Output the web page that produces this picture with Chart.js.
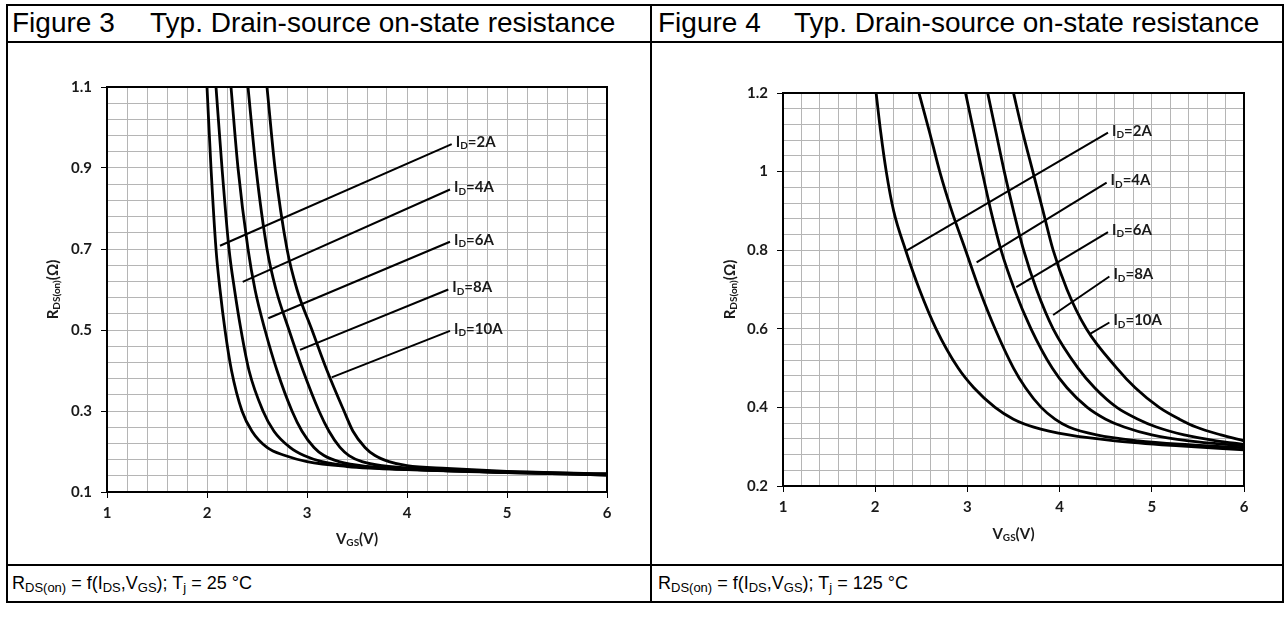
<!DOCTYPE html>
<html>
<head>
<meta charset="utf-8">
<script src="https://cdn.jsdelivr.net/npm/chart.js@4.4.1/dist/chart.umd.min.js"></script>
<style>
  html, body { margin: 0; padding: 0; background: #fff; }
  body { width: 1288px; height: 630px; position: relative; overflow: hidden; font-family: Arial, "Liberation Sans", sans-serif; }
  .ln { position: absolute; background: #000; }
  .ttl { position: absolute; top: 7px; font-size: 28px; line-height: 32px; white-space: nowrap; color: #000; }
  .foot { position: absolute; top: 571px; font-size: 18px; line-height: 24px; white-space: nowrap; color: #000; }
  .foot sub { font-size: 13px; vertical-align: baseline; position: relative; top: 3px; }
  .box { position: absolute; top: 45px; height: 519px; }
</style>
</head>
<body>
<div class="ln" style="left:6px;top:4px;width:1278px;height:2px"></div>
<div class="ln" style="left:6px;top:41px;width:1278px;height:2px"></div>
<div class="ln" style="left:6px;top:564px;width:1278px;height:2px"></div>
<div class="ln" style="left:6px;top:601px;width:1278px;height:2px"></div>
<div class="ln" style="left:6px;top:4px;width:2px;height:599px"></div>
<div class="ln" style="left:650px;top:4px;width:2px;height:599px"></div>
<div class="ln" style="left:1282px;top:4px;width:2px;height:599px"></div>

<div class="ttl" style="left:12px">Figure 3</div>
<div class="ttl" style="left:150px">Typ. Drain-source on-state resistance</div>
<div class="ttl" style="left:658px">Figure 4</div>
<div class="ttl" style="left:794px">Typ. Drain-source on-state resistance</div>

<div class="foot" style="left:12px">R<sub>DS(on)</sub> = f(I<sub>DS</sub>,V<sub>GS</sub>); T<sub>j</sub> = 25 °C</div>
<div class="foot" style="left:658px">R<sub>DS(on)</sub> = f(I<sub>DS</sub>,V<sub>GS</sub>); T<sub>j</sub> = 125 °C</div>

<div class="box" style="left:0;width:651px"><canvas id="chart25"></canvas></div>
<div class="box" style="left:651px;width:637px"><canvas id="chart125"></canvas></div>

<script>
const currents = ['2A', '4A', '6A', '8A', '10A'];

// Tj = 25 °C  (VGS in V, RDS(on) in ohm)
const vgs25_2A  = [2.00, 2.04, 2.09, 2.13, 2.18, 2.245, 2.35, 2.45, 2.60, 2.78, 3.00, 3.40, 4.00, 5.00, 6.00];
const rds25_2A  = [1.10, 0.90, 0.70, 0.60, 0.50, 0.40, 0.30, 0.25, 0.21, 0.19, 0.175, 0.163, 0.155, 0.148, 0.142];
const vgs25_4A  = [2.09, 2.15, 2.22, 2.275, 2.34, 2.42, 2.56, 2.67, 2.83, 2.97, 3.15, 3.50, 4.10, 5.00, 6.00];
const rds25_4A  = [1.10, 0.90, 0.70, 0.60, 0.50, 0.40, 0.30, 0.25, 0.21, 0.19, 0.175, 0.163, 0.155, 0.148, 0.142];
const vgs25_6A  = [2.24, 2.31, 2.41, 2.48, 2.58, 2.70, 2.85, 2.95, 3.07, 3.17, 3.32, 3.60, 4.10, 5.00, 6.00];
const rds25_6A  = [1.10, 0.90, 0.70, 0.60, 0.50, 0.40, 0.30, 0.25, 0.21, 0.19, 0.175, 0.163, 0.155, 0.149, 0.143];
const vgs25_8A  = [2.41, 2.49, 2.60, 2.69, 2.82, 2.96, 3.12, 3.22, 3.33, 3.42, 3.55, 3.75, 4.20, 5.00, 6.00];
const rds25_8A  = [1.10, 0.90, 0.70, 0.60, 0.50, 0.40, 0.30, 0.25, 0.21, 0.19, 0.175, 0.165, 0.157, 0.150, 0.144];
const vgs25_10A = [2.60, 2.68, 2.80, 2.90, 3.05, 3.20, 3.37, 3.46, 3.58, 3.68, 3.82, 4.00, 4.40, 5.00, 6.00];
const rds25_10A = [1.10, 0.90, 0.70, 0.60, 0.50, 0.40, 0.30, 0.25, 0.21, 0.19, 0.175, 0.165, 0.158, 0.151, 0.145];

// label leader lines, Tj = 25 °C
const lead25_v0 = [2.13, 2.357, 2.613, 2.93, 3.247];
const lead25_r0 = [0.708, 0.619, 0.529, 0.451, 0.383];
const lead25_v1 = [4.447, 4.43, 4.43, 4.413, 4.43];
const lead25_r1 = [0.959, 0.847, 0.718, 0.600, 0.498];

// Tj = 125 °C
const vgs125_2A  = [2.01, 2.06, 2.12, 2.20, 2.33, 2.48, 2.66, 2.90, 3.07, 3.30, 3.50, 3.72, 4.10, 4.60, 5.30, 6.00];
const rds125_2A  = [1.20, 1.10, 1.00, 0.90, 0.80, 0.70, 0.60, 0.50, 0.45, 0.40, 0.37, 0.35, 0.33, 0.315, 0.302, 0.292];
const vgs125_4A  = [2.475, 2.59, 2.70, 2.83, 2.98, 3.13, 3.30, 3.50, 3.63, 3.80, 3.95, 4.10, 4.40, 4.85, 5.40, 6.00];
const rds125_4A  = [1.20, 1.10, 1.00, 0.90, 0.80, 0.70, 0.60, 0.50, 0.45, 0.40, 0.37, 0.35, 0.33, 0.315, 0.305, 0.297];
const vgs125_6A  = [2.98, 3.07, 3.16, 3.255, 3.365, 3.51, 3.69, 3.92, 4.08, 4.30, 4.50, 4.70, 5.00, 5.40, 6.00];
const rds125_6A  = [1.20, 1.10, 1.00, 0.90, 0.80, 0.70, 0.60, 0.50, 0.45, 0.40, 0.37, 0.35, 0.33, 0.315, 0.302];
const vgs125_8A  = [3.22, 3.31, 3.40, 3.50, 3.61, 3.75, 3.93, 4.20, 4.38, 4.62, 4.85, 5.05, 5.35, 5.70, 6.00];
const rds125_8A  = [1.20, 1.10, 1.00, 0.90, 0.80, 0.70, 0.60, 0.50, 0.45, 0.40, 0.37, 0.35, 0.33, 0.315, 0.306];
const vgs125_10A = [3.50, 3.60, 3.71, 3.82, 3.93, 4.08, 4.29, 4.62, 4.82, 5.08, 5.30, 5.48, 5.75, 6.00];
const rds125_10A = [1.20, 1.10, 1.00, 0.90, 0.80, 0.70, 0.60, 0.50, 0.45, 0.40, 0.37, 0.35, 0.33, 0.315];

const lead125_v0 = [2.34, 3.10, 3.53, 3.93, 4.33];
const lead125_r0 = [0.799, 0.769, 0.706, 0.635, 0.587];
const lead125_v1 = [4.525, 4.51, 4.525, 4.54, 4.54];
const lead125_r1 = [1.099, 0.972, 0.846, 0.733, 0.616];

function pts(xs, ys) {
  return xs.map((x, i) => ({ x: x, y: ys[i] }));
}

function curveSet(vs, rs) {
  return {
    data: pts(vs, rs),
    showLine: true,
    borderColor: '#000',
    borderWidth: 2.8,
    pointRadius: 0,
    cubicInterpolationMode: 'monotone'
  };
}

function leaderSet(v0, r0, v1, r1) {
  return {
    data: [{ x: v0, y: r0 }, { x: v1, y: r1 }],
    showLine: true,
    borderColor: '#000',
    borderWidth: 2,
    pointRadius: 0
  };
}

const tickFont = { family: 'Lato, "Open Sans", sans-serif', size: 15, weight: 'bold' };

// text with a subscript part, drawn left to right from x
function drawSub(ctx, parts, x, y) {
  parts.forEach(p => {
    ctx.font = p.sub ? 'bold 10px Lato, sans-serif' : 'bold 15px Lato, sans-serif';
    ctx.fillText(p.t, x, p.sub ? y + 4 : y);
    x += ctx.measureText(p.t).width;
  });
  return x;
}
function subWidth(ctx, parts) {
  let w = 0;
  parts.forEach(p => {
    ctx.font = p.sub ? 'bold 10px Lato, sans-serif' : 'bold 15px Lato, sans-serif';
    w += ctx.measureText(p.t).width;
  });
  return w;
}

const extras = {
  id: 'extras',
  afterDatasetsDraw(chart, args, opts) {
    const ctx = chart.ctx;
    const a = chart.chartArea;
    const xs = chart.scales.x, ys = chart.scales.y;
    ctx.save();
    // plot frame
    ctx.strokeStyle = '#000';
    ctx.lineWidth = 2;
    ctx.strokeRect(a.left, a.top, a.right - a.left, a.bottom - a.top);

    ctx.fillStyle = '#1a1a1a';
    ctx.textBaseline = 'middle';
    // current labels at the end of each leader
    opts.v1.forEach((v, i) => {
      const px = xs.getPixelForValue(v) + 4;
      const py = ys.getPixelForValue(opts.r1[i]) - 2;
      drawSub(ctx, [{ t: 'I' }, { t: 'D', sub: true }, { t: '=' + currents[i] }], px, py);
    });

    // x axis title
    const xp = [{ t: 'V' }, { t: 'GS', sub: true }, { t: '(V)' }];
    drawSub(ctx, xp, (a.left + a.right) / 2 - subWidth(ctx, xp) / 2, a.bottom + opts.xTitleGap);

    // y axis title, rotated
    const yp = [{ t: 'R' }, { t: 'DS(on)', sub: true }, { t: '(Ω)' }];
    ctx.translate(a.left - opts.yTitleGap, (a.top + a.bottom) / 2);
    ctx.rotate(-Math.PI / 2);
    drawSub(ctx, yp, -subWidth(ctx, yp) / 2, 0);
    ctx.restore();
  }
};

function makeChart(id, sets, lead, cfg) {
  const datasets = sets.map(s => curveSet(s[0], s[1]));
  lead.v0.forEach((v, i) => datasets.push(leaderSet(v, lead.r0[i], lead.v1[i], lead.r1[i])));
  return new Chart(document.getElementById(id), {
    type: 'scatter',
    data: { datasets },
    options: {
      responsive: true,
      maintainAspectRatio: false,
      animation: false,
      layout: { padding: { top: cfg.padTop, right: cfg.padRight, left: 0, bottom: 0 } },
      plugins: {
        legend: { display: false },
        tooltip: { enabled: false },
        extras: { v1: lead.v1, r1: lead.r1, xTitleGap: cfg.xTitleGap, yTitleGap: cfg.yTitleGap }
      },
      scales: {
        x: {
          type: 'linear', min: 1, max: 6,
          afterFit: s => { s.height = cfg.xAxisH; },
          border: { color: '#000', width: 2 },
          grid: {
            color: '#b5b5b5', lineWidth: 1, tickLength: 6,
            tickColor: c => (c.index % 5 === 0 ? '#000' : 'rgba(0,0,0,0)')
          },
          ticks: {
            stepSize: 0.2, autoSkip: false, maxRotation: 0, padding: 6,
            color: '#1a1a1a', font: tickFont,
            callback: (v, i) => (i % 5 === 0 ? String(Math.round(v)) : '')
          }
        },
        y: {
          type: 'linear', min: cfg.yMin, max: cfg.yMax,
          afterFit: s => { s.width = cfg.yAxisW; },
          border: { color: '#000', width: 2 },
          grid: {
            color: '#b5b5b5', lineWidth: 1, tickLength: 6,
            tickColor: c => (c.index % 5 === 0 ? '#000' : 'rgba(0,0,0,0)')
          },
          ticks: {
            stepSize: 0.04, autoSkip: false, padding: 9,
            color: '#1a1a1a', font: tickFont,
            callback: (v, i) => (i % 5 === 0 ? String(Number(v.toFixed(2))) : '')
          }
        }
      }
    },
    plugins: [extras]
  });
}

makeChart('chart25',
  [[vgs25_2A, rds25_2A], [vgs25_4A, rds25_4A], [vgs25_6A, rds25_6A], [vgs25_8A, rds25_8A], [vgs25_10A, rds25_10A]],
  { v0: lead25_v0, r0: lead25_r0, v1: lead25_v1, r1: lead25_r1 },
  { yMin: 0.1, yMax: 1.1, padTop: 42, padRight: 44, xAxisH: 72, yAxisW: 107, xTitleGap: 47, yTitleGap: 54 });

makeChart('chart125',
  [[vgs125_2A, rds125_2A], [vgs125_4A, rds125_4A], [vgs125_6A, rds125_6A], [vgs125_8A, rds125_8A], [vgs125_10A, rds125_10A]],
  { v0: lead125_v0, r0: lead125_r0, v1: lead125_v1, r1: lead125_r1 },
  { yMin: 0.2, yMax: 1.2, padTop: 48, padRight: 44, xAxisH: 78, yAxisW: 132, xTitleGap: 48, yTitleGap: 53 });
</script>
</body>
</html>
